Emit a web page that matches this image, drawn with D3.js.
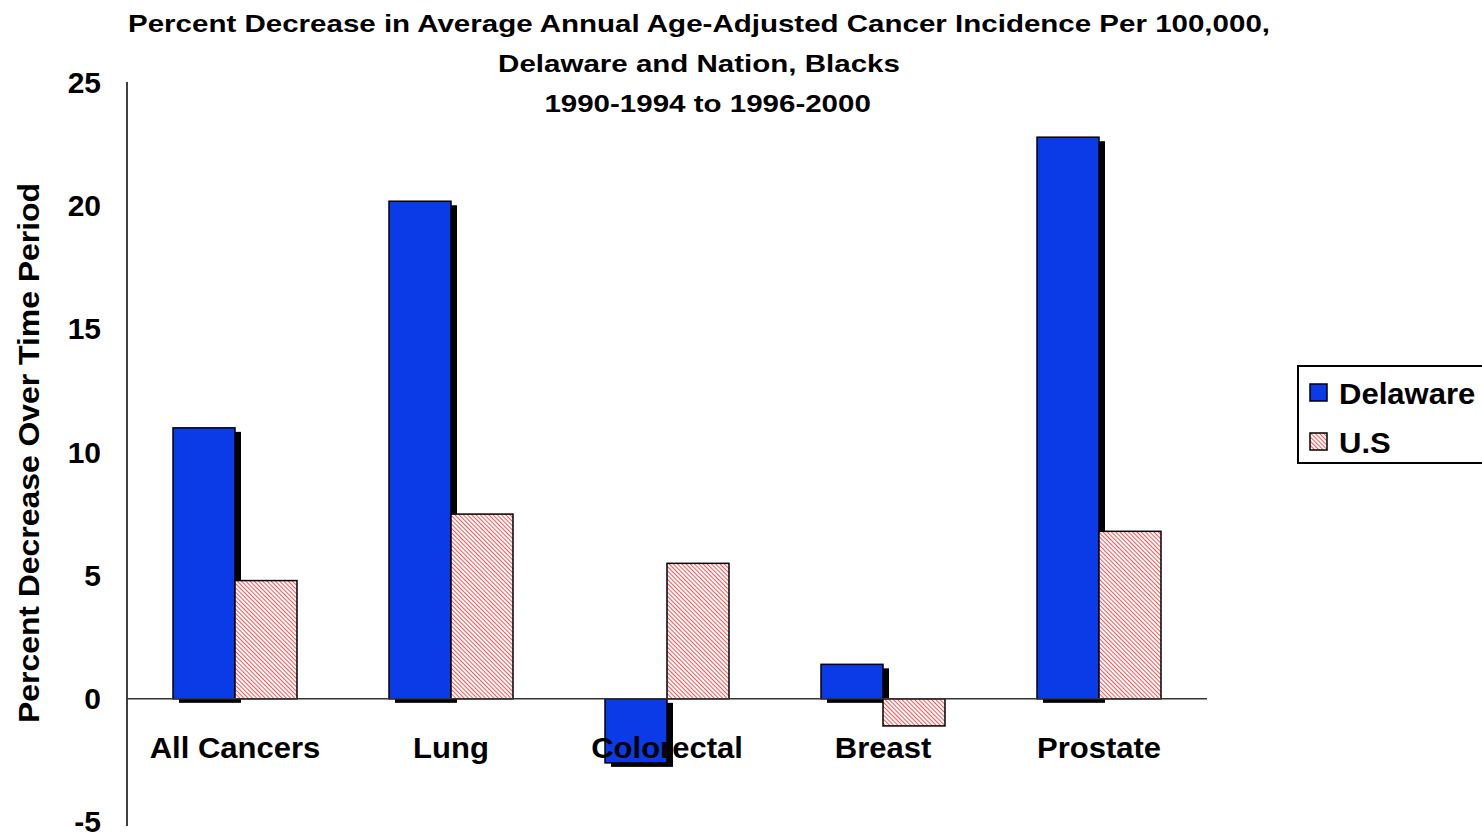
<!DOCTYPE html>
<html>
<head>
<meta charset="utf-8">
<script src="https://cdn.jsdelivr.net/npm/d3@7"></script>
<style>
  body { margin: 0; background: #fff; }
  text { font-family: "Liberation Sans", Arial, sans-serif; font-weight: bold; fill: #000; }
</style>
</head>
<body>
<div id="chart"></div>
<script>
const width = 1482;
const height = 836;

// data
const categories = ["All Cancers", "Lung", "Colorectal", "Breast", "Prostate"];
const seriesNames = ["Delaware", "U.S"];
const delaware = [11.0, 20.2, -2.6, 1.4, 22.8];
const us = [4.8, 7.5, 5.5, -1.1, 6.8];
const yTicks = [-5, 0, 5, 10, 15, 20, 25];
const titleLines = [
    "Percent Decrease in Average Annual Age-Adjusted Cancer Incidence Per 100,000,",
    "Delaware and Nation, Blacks",
    "1990-1994 to 1996-2000"
];

const blue = "#0a3be6";

const svg = d3.select("#chart").append("svg")
    .attr("width", width)
    .attr("height", height);

// hatch for U.S bars
const defs = svg.append("defs");
const pat = defs.append("pattern")
    .attr("id", "hatch")
    .attr("patternUnits", "userSpaceOnUse")
    .attr("width", 3)
    .attr("height", 3)
    .attr("patternTransform", "rotate(-45)");
pat.append("rect").attr("width", 3).attr("height", 3).attr("fill", "#fff");
pat.append("line")
    .attr("x1", 0).attr("y1", 0).attr("x2", 0).attr("y2", 3)
    .attr("stroke", "#f33").attr("stroke-width", 1.7);

// scales
const x0 = d3.scaleBand()
    .domain(categories)
    .range([127, 1207])
    .paddingInner(0.426)
    .paddingOuter(0.213);

const x1 = d3.scaleBand()
    .domain(seriesNames)
    .range([0, x0.bandwidth()]);

const y = d3.scaleLinear()
    .domain([-5, 25])
    .range([822, 83]);

const rows = categories.map((c, i) => ({ cat: c, values: [
    { key: "Delaware", value: delaware[i] },
    { key: "U.S", value: us[i] }
] }));

// title
const title = svg.append("g")
    .attr("transform", "translate(699,0) scale(1.23,1)");
titleLines.forEach((t, i) => {
    title.append("text")
        .attr("x", i == 2 ? 7 : 0)
        .attr("y", 32 + i * 40)
        .attr("text-anchor", "middle")
        .attr("font-size", "24px")
        .text(t);
});

// Y axis
svg.append("line")
    .attr("x1", 127).attr("x2", 127)
    .attr("y1", 82).attr("y2", 826)
    .attr("stroke", "#000").attr("stroke-width", 1.5);

svg.append("g")
    .attr("transform", "translate(127,0)")
    .call(d3.axisLeft(y).tickValues(yTicks).tickSize(0).tickPadding(26).tickFormat(d => String(d)))
    .call(g => g.select(".domain").remove())
    .selectAll("text")
    .attr("font-size", "30px")
    .attr("font-family", "Liberation Sans, Arial, sans-serif");

// Y label
svg.append("text")
    .attr("transform", "translate(39,453) rotate(-90) scale(1.1,1)")
    .attr("text-anchor", "middle")
    .attr("font-size", "29px")
    .text("Percent Decrease Over Time Period");

const groups = svg.selectAll(".grp")
    .data(rows)
    .enter().append("g")
    .attr("class", "grp")
    .attr("transform", d => `translate(${x0(d.cat)},0)`);

// shadows behind the Delaware bars
groups.append("rect")
    .datum(d => d.values[0])
    .attr("x", d => x1(d.key) + 6)
    .attr("y", d => Math.min(y(d.value), y(0)) + 4)
    .attr("width", x1.bandwidth())
    .attr("height", d => Math.abs(y(d.value) - y(0)))
    .attr("fill", "#000");

// X axis line
svg.append("line")
    .attr("x1", 127).attr("x2", 1207)
    .attr("y1", y(0)).attr("y2", y(0))
    .attr("stroke", "#333").attr("stroke-width", 1.5);

groups.selectAll(".bar")
    .data(d => d.values)
    .enter().append("rect")
    .attr("class", "bar")
    .attr("x", d => x1(d.key))
    .attr("y", d => Math.min(y(d.value), y(0)))
    .attr("width", x1.bandwidth())
    .attr("height", d => Math.abs(y(d.value) - y(0)))
    .attr("fill", d => d.key == "Delaware" ? blue : "url(#hatch)")
    .attr("stroke", "#000")
    .attr("stroke-width", 1.5);

// category labels
svg.selectAll(".cat")
    .data(categories)
    .enter().append("text")
    .attr("class", "cat")
    .attr("transform", d => `translate(${x0(d) + x0.bandwidth() / 2},758) scale(1.07,1)`)
    .attr("text-anchor", "middle")
    .attr("font-size", "29px")
    .text(d => d);

// legend
const legend = svg.append("g").attr("transform", "translate(1298,366)");
legend.append("rect")
    .attr("width", 200).attr("height", 97)
    .attr("fill", "#fff")
    .attr("stroke", "#000").attr("stroke-width", 2);

seriesNames.forEach((s, i) => {
    legend.append("rect")
        .attr("x", 12).attr("y", 18 + i * 49)
        .attr("width", 17).attr("height", 17)
        .attr("fill", i == 0 ? blue : "url(#hatch)")
        .attr("stroke", "#000").attr("stroke-width", 1.5);
    legend.append("text")
        .attr("transform", `translate(41,${38 + i * 49}) scale(1.07,1)`)
        .attr("font-size", "29px")
        .text(s);
});
</script>
</body>
</html>
